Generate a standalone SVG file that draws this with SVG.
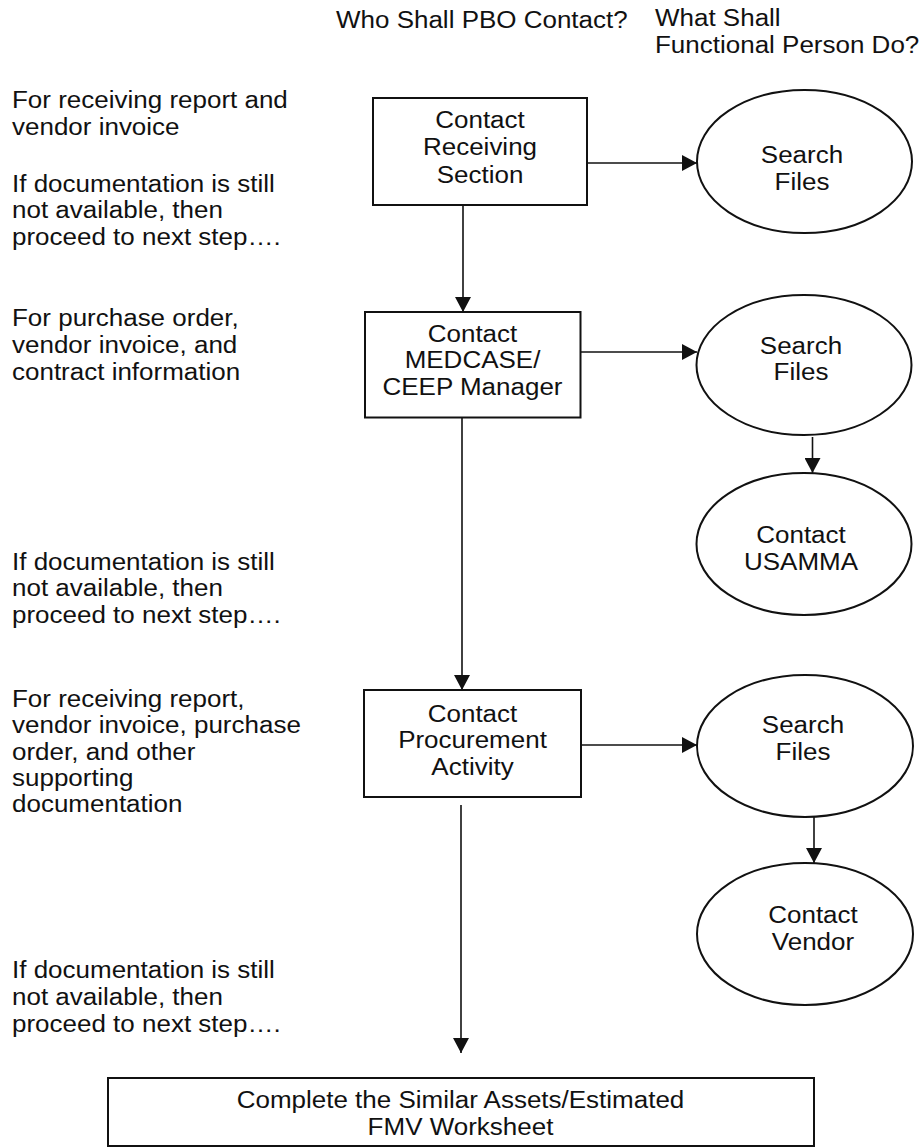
<svg xmlns="http://www.w3.org/2000/svg" width="921" height="1148" viewBox="0 0 921 1148">
<style>
.t{font-family:"Liberation Sans",Arial,sans-serif;font-size:23px;fill:#111}
.c{text-anchor:middle}
.box{fill:#fff;stroke:#111;stroke-width:2}
.ell{fill:#fff;stroke:#111;stroke-width:2}
.ln{fill:none;stroke:#111;stroke-width:1.6}
</style>
<defs>
<marker id="ah" markerUnits="userSpaceOnUse" markerWidth="16" markerHeight="16" refX="15" refY="8" orient="auto" viewBox="0 0 16 16">
<path d="M0,0 L15,8 L0,16 z" fill="#111"/>
</marker>
</defs>
<rect width="921" height="1148" fill="#fff"/>

<g id="headers">
<text class="t" transform="translate(336,0) scale(1.13,1)"><tspan x="0" y="28">Who Shall PBO Contact?</tspan></text>
<text class="t" transform="translate(655,0) scale(1.13,1)"><tspan x="0" y="26">What Shall</tspan><tspan x="0" y="53">Functional Person Do?</tspan></text>
</g>

<g id="notes">
<text class="t" transform="translate(12,0) scale(1.13,1)"><tspan x="0" y="108">For receiving report and</tspan><tspan x="0" y="135">vendor invoice</tspan></text>
<text class="t" transform="translate(12,0) scale(1.13,1)"><tspan x="0" y="192">If documentation is still</tspan><tspan x="0" y="218">not available, then</tspan><tspan x="0" y="245">proceed to next step….</tspan></text>
<text class="t" transform="translate(12,0) scale(1.13,1)"><tspan x="0" y="326">For purchase order,</tspan><tspan x="0" y="353">vendor invoice, and</tspan><tspan x="0" y="380">contract information</tspan></text>
<text class="t" transform="translate(12,0) scale(1.13,1)"><tspan x="0" y="570">If documentation is still</tspan><tspan x="0" y="596">not available, then</tspan><tspan x="0" y="623">proceed to next step….</tspan></text>
<text class="t" transform="translate(12,0) scale(1.13,1)"><tspan x="0" y="707">For receiving report,</tspan><tspan x="0" y="733">vendor invoice, purchase</tspan><tspan x="0" y="760">order, and other</tspan><tspan x="0" y="786">supporting</tspan><tspan x="0" y="812">documentation</tspan></text>
<text class="t" transform="translate(12,0) scale(1.13,1)"><tspan x="0" y="978">If documentation is still</tspan><tspan x="0" y="1005">not available, then</tspan><tspan x="0" y="1032">proceed to next step….</tspan></text>
</g>

<g id="connectors">
<line class="ln" x1="587" y1="163" x2="697" y2="163" marker-end="url(#ah)"/>
<line class="ln" x1="463" y1="205" x2="463" y2="312" marker-end="url(#ah)"/>
<line class="ln" x1="581" y1="352" x2="697" y2="352" marker-end="url(#ah)"/>
<line class="ln" x1="812.5" y1="437" x2="812.5" y2="473" marker-end="url(#ah)"/>
<line class="ln" x1="462" y1="418" x2="462" y2="690" marker-end="url(#ah)"/>
<line class="ln" x1="581" y1="745" x2="697" y2="745" marker-end="url(#ah)"/>
<line class="ln" x1="814" y1="810" x2="814" y2="863" marker-end="url(#ah)"/>
<line class="ln" x1="461" y1="805" x2="461" y2="1053" marker-end="url(#ah)"/>
</g>

<g id="box-receiving">
<rect class="box" x="373" y="98" width="214" height="107"/>
<text class="t c" transform="translate(480,0) scale(1.13,1)"><tspan x="0" y="128">Contact</tspan><tspan x="0" y="155">Receiving</tspan><tspan x="0" y="183">Section</tspan></text>
</g>
<g id="ell-search1">
<ellipse class="ell" cx="804.5" cy="161.5" rx="107.5" ry="71.5"/>
<text class="t c" transform="translate(802,0) scale(1.13,1)"><tspan x="0" y="163">Search</tspan><tspan x="0" y="190">Files</tspan></text>
</g>

<g id="box-medcase">
<rect class="box" x="365" y="312" width="215.5" height="105.5"/>
<text class="t c" transform="translate(472.5,0) scale(1.13,1)"><tspan x="0" y="342">Contact</tspan><tspan x="0" y="368">MEDCASE/</tspan><tspan x="0" y="395">CEEP Manager</tspan></text>
</g>
<g id="ell-search2">
<ellipse class="ell" cx="804" cy="365" rx="107.5" ry="70"/>
<text class="t c" transform="translate(801,0) scale(1.13,1)"><tspan x="0" y="354">Search</tspan><tspan x="0" y="380">Files</tspan></text>
</g>
<g id="ell-usamma">
<ellipse class="ell" cx="804" cy="544" rx="107.5" ry="71"/>
<text class="t c" transform="translate(801,0) scale(1.13,1)"><tspan x="0" y="543">Contact</tspan><tspan x="0" y="570">USAMMA</tspan></text>
</g>

<g id="box-procurement">
<rect class="box" x="364" y="690" width="217" height="107"/>
<text class="t c" transform="translate(472.5,0) scale(1.13,1)"><tspan x="0" y="722">Contact</tspan><tspan x="0" y="748">Procurement</tspan><tspan x="0" y="775">Activity</tspan></text>
</g>
<g id="ell-search3">
<ellipse class="ell" cx="805" cy="746" rx="108" ry="71"/>
<text class="t c" transform="translate(803,0) scale(1.13,1)"><tspan x="0" y="733">Search</tspan><tspan x="0" y="760">Files</tspan></text>
</g>
<g id="ell-vendor">
<ellipse class="ell" cx="805" cy="934" rx="108" ry="71"/>
<text class="t c" transform="translate(813,0) scale(1.13,1)"><tspan x="0" y="923">Contact</tspan><tspan x="0" y="950">Vendor</tspan></text>
</g>

<g id="box-worksheet">
<rect class="box" x="108" y="1078" width="706" height="68"/>
<text class="t c" transform="translate(460.5,0) scale(1.13,1)"><tspan x="0" y="1108">Complete the Similar Assets/Estimated</tspan><tspan x="0" y="1135">FMV Worksheet</tspan></text>
</g>
</svg>
